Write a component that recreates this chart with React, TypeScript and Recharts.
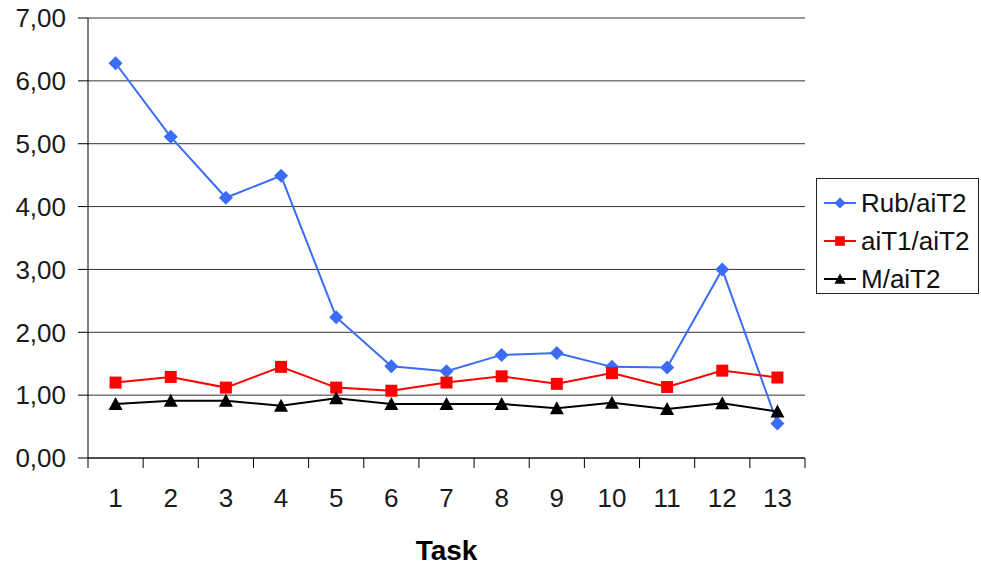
import React from "react";
import {
  CartesianGrid,
  Line,
  LineChart,
  XAxis,
  YAxis,
} from "recharts";

const TASKS = [1, 2, 3, 4, 5, 6, 7, 8, 9, 10, 11, 12, 13];
const RUB_AIT2 = [6.28, 5.11, 4.14, 4.49, 2.24, 1.46, 1.38, 1.64, 1.67, 1.45, 1.44, 3.0, 0.55];
const AIT1_AIT2 = [1.2, 1.29, 1.12, 1.45, 1.12, 1.07, 1.2, 1.3, 1.18, 1.35, 1.13, 1.39, 1.28];
const M_AIT2 = [0.86, 0.91, 0.91, 0.83, 0.95, 0.86, 0.86, 0.86, 0.79, 0.88, 0.78, 0.87, 0.74];
const Y_TICKS = [0, 1, 2, 3, 4, 5, 6, 7];

const BLUE = "#3a6cf6";
const RED = "#ff0000";
const BLACK = "#000000";
const FONT = "Arial, 'Liberation Sans', sans-serif";

const data = TASKS.map((task, i) => ({
  task,
  rub: RUB_AIT2[i],
  ait1: AIT1_AIT2[i],
  m: M_AIT2[i],
}));

// integer positions carry the labels, half positions carry the tick marks between categories
const X_TICKS = [...TASKS.flatMap((t) => [t - 0.5, t]), TASKS[TASKS.length - 1] + 0.5];

const fmt = (v: number) => v.toFixed(2).replace(".", ",");

type Shape = "diamond" | "square" | "triangle";

function markerPath(shape: Shape, cx: number, cy: number) {
  if (shape === "diamond") return `M${cx},${cy - 7}L${cx + 7},${cy}L${cx},${cy + 7}L${cx - 7},${cy}Z`;
  if (shape === "square") return `M${cx - 6},${cy - 6}h12v12h-12Z`;
  return `M${cx},${cy - 7}L${cx + 7},${cy + 6}L${cx - 7},${cy + 6}Z`;
}

const makeDot = (shape: Shape, color: string) => (p: any) => {
  const { cx, cy, index } = p;
  if (cx == null || cy == null) return <g key={index} />;
  return <path key={index} d={markerPath(shape, cx, cy)} fill={color} />;
};

const XTick = (p: any) => {
  const { x, y, payload } = p;
  const v = payload.value as number;
  if (v % 1 !== 0) {
    return <line x1={x} x2={x} y1={y} y2={y + 10} stroke={BLACK} strokeWidth={1} />;
  }
  return (
    <text
      x={x}
      y={y + 40}
      textAnchor="middle"
      dominantBaseline="central"
      fontSize={26}
      fontFamily={FONT}
      fill="#1a1a1a"
    >
      {v}
    </text>
  );
};

const SERIES = [
  { key: "rub", name: "Rub/aiT2", color: BLUE, shape: "diamond" as Shape },
  { key: "ait1", name: "aiT1/aiT2", color: RED, shape: "square" as Shape },
  { key: "m", name: "M/aiT2", color: BLACK, shape: "triangle" as Shape },
];

export default function App() {
  return (
    <div style={{ position: "relative", width: 981, height: 568, background: "#fff" }}>
      <style>{"body{margin:0;background:#fff}"}</style>
      <LineChart
        width={981}
        height={568}
        data={data}
        margin={{ top: 18, right: 176, left: 0, bottom: 0 }}
      >
        <CartesianGrid vertical={false} stroke="#333" strokeWidth={1} />
        <XAxis
          dataKey="task"
          type="number"
          domain={[0.5, 13.5]}
          ticks={X_TICKS}
          interval={0}
          tickSize={0}
          tickMargin={0}
          tickLine={false}
          axisLine={{ stroke: BLACK }}
          tick={<XTick />}
          height={110}
          label={{
            value: "Task",
            position: "insideBottom",
            offset: 8,
            style: { fontSize: 28, fontWeight: 700, fontFamily: FONT, fill: BLACK },
          }}
        />
        <YAxis
          domain={[0, 7]}
          ticks={Y_TICKS}
          interval={0}
          width={88}
          tickSize={10}
          tickMargin={12}
          tickFormatter={fmt}
          axisLine={{ stroke: BLACK }}
          tickLine={{ stroke: BLACK }}
          tick={{ fontSize: 26, fontFamily: FONT, fill: "#1a1a1a" }}
        />
        <YAxis
          yAxisId="frame"
          orientation="right"
          domain={[0, 7]}
          width={0}
          tick={false}
          tickLine={false}
          axisLine={{ stroke: BLACK }}
        />
        {SERIES.map((s) => (
          <Line
            key={s.key}
            dataKey={s.key}
            name={s.name}
            stroke={s.color}
            strokeWidth={2}
            dot={makeDot(s.shape, s.color)}
            activeDot={false}
            isAnimationActive={false}
          />
        ))}
      </LineChart>
      <div
        style={{
          position: "absolute",
          left: 816,
          top: 178,
          width: 163,
          height: 116,
          border: "1px solid #222",
          fontFamily: FONT,
          fontSize: 26,
          color: "#111",
          boxSizing: "border-box",
          paddingTop: 5,
        }}
      >
        {SERIES.map((s) => (
          <div key={s.key} style={{ display: "flex", alignItems: "center", height: 38 }}>
            <svg width={44} height={20} style={{ flexShrink: 0 }}>
              <line x1={7} x2={39} y1={10} y2={10} stroke={s.color} strokeWidth={2} />
              <path d={markerPath(s.shape, 23, 10)} fill={s.color} transform="translate(23 10) scale(0.8) translate(-23 -10)" />
            </svg>
            <span style={{ lineHeight: 1 }}>{s.name}</span>
          </div>
        ))}
      </div>
    </div>
  );
}
